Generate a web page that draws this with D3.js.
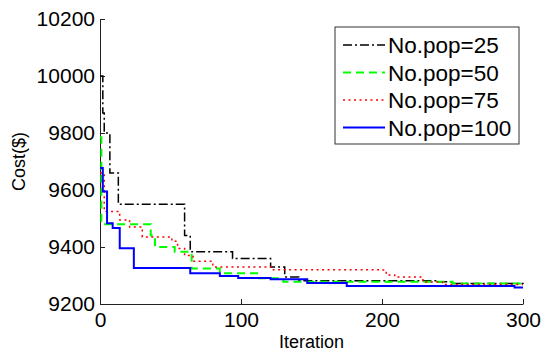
<!DOCTYPE html>
<html>
<head>
<meta charset="utf-8">
<script src="https://cdn.jsdelivr.net/npm/d3@7"></script>
<style>
  body { margin: 0; background: #fff; }
  svg text { font-family: "Liberation Sans", Arial, sans-serif; fill: #000; }
</style>
</head>
<body>
<div id="chart"></div>
<script>
// step points [iteration, cost]
const pop25 = [[0,10000],[2,9870],[3,9800],[7,9660],[13,9550],[60,9440],[64,9383],[94,9360],[121,9330],[131,9295],[141,9282],[240,9278],[250,9272],[300,9270]];
const pop50 = [[0,9785],[1,9480],[36,9440],[39,9400],[53,9383],[65,9325],[85,9308],[113,9290],[130,9278],[250,9272],[300,9272]];
const pop75 = [[0,9660],[3,9525],[14,9495],[21,9470],[30,9435],[51,9420],[55,9395],[60,9370],[66,9350],[80,9330],[122,9320],[199,9319],[203,9302],[209,9295],[229,9277],[243,9268],[300,9268]];
const pop100 = [[0,9677],[2,9595],[5,9483],[9,9467],[14,9396],[24,9326],[64,9308],[85,9298],[98,9291],[121,9287],[147,9274],[175,9263],[294,9258],[300,9258]];

const seriesNames = ["No.pop=25", "No.pop=50", "No.pop=75", "No.pop=100"];
const xTicks = [0, 100, 200, 300];
const yTicks = [9200, 9400, 9600, 9800, 10000, 10200];

const width = 543, height = 354;
const margin = {left: 100, right: 20, top: 19, bottom: 50};

const styles = [
  {color: "#000000", dash: "9,3,2,3", w: 1.5},
  {color: "#00ff00", dash: "8,5", w: 2},
  {color: "#ff0000", dash: "2,3.5", w: 1.5},
  {color: "#0000ff", dash: null, w: 2}
];

const svg = d3.select("#chart").append("svg")
  .attr("width", width)
  .attr("height", height);

const x = d3.scaleLinear().domain([0, 300]).range([margin.left, width - margin.right]);
const y = d3.scaleLinear().domain([9200, 10200]).range([height - margin.bottom, margin.top]);

svg.append("g")
  .attr("transform", `translate(0,${height - margin.bottom})`)
  .call(d3.axisBottom(x).tickValues(xTicks).tickSizeInner(-5).tickSizeOuter(0).tickPadding(8).tickFormat(d3.format("d")))
  .call(g => g.selectAll("text").attr("font-size", 21))
  .call(g => g.selectAll("path, line").attr("stroke", "#222"));

svg.append("g")
  .attr("transform", `translate(${margin.left},0)`)
  .call(d3.axisLeft(y).tickValues(yTicks).tickSizeInner(-5).tickSizeOuter(0).tickPadding(5).tickFormat(d3.format("d")))
  .call(g => g.selectAll("text").attr("font-size", 21))
  .call(g => g.selectAll("path, line").attr("stroke", "#222"));

const line = d3.line()
  .x(d => x(d[0]))
  .y(d => y(d[1]))
  .curve(d3.curveStepAfter);

const allSeries = [pop25, pop50, pop75, pop100];

svg.selectAll("path.series")
  .data(allSeries)
  .join("path")
  .attr("class", "series")
  .attr("fill", "none")
  .attr("stroke", (d, i) => styles[i].color)
  .attr("stroke-width", (d, i) => styles[i].w)
  .attr("stroke-dasharray", (d, i) => styles[i].dash)
  .attr("d", line);

// axis labels
svg.append("text")
  .attr("x", (margin.left + width - margin.right) / 2)
  .attr("y", 348)
  .attr("text-anchor", "middle")
  .attr("font-size", 18)
  .text("Iteration");

svg.append("text")
  .attr("transform", `translate(25,${(margin.top + height - margin.bottom) / 2}) rotate(-90)`)
  .attr("text-anchor", "middle")
  .attr("font-size", 18)
  .text("Cost($)");

// legend
const legend = svg.append("g").attr("transform", "translate(335,27)");
legend.append("rect")
  .attr("width", 184)
  .attr("height", 117)
  .attr("fill", "#fff")
  .attr("stroke", "#333");

const rows = legend.selectAll("g.row")
  .data(seriesNames)
  .join("g")
  .attr("class", "row")
  .attr("transform", (d, i) => `translate(0,${18 + i * 27.5})`);

rows.append("line")
  .attr("x1", 8).attr("x2", 50)
  .attr("stroke", (d, i) => styles[i].color)
  .attr("stroke-width", (d, i) => styles[i].w)
  .attr("stroke-dasharray", (d, i) => styles[i].dash);

rows.append("text")
  .attr("x", 53)
  .attr("dy", "0.36em")
  .attr("font-size", 22.5)
  .text(d => d);
</script>
</body>
</html>
